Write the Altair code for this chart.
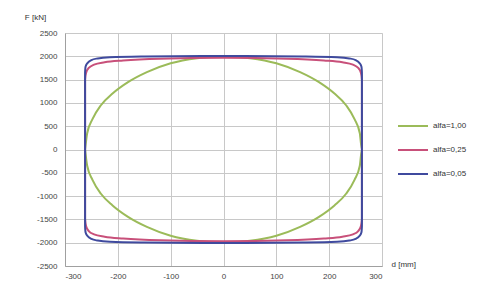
import altair as alt
import pandas as pd

series_names = ["alfa=1,00", "alfa=0,25", "alfa=0,05"]
series_colors = ["#9bbb59", "#c8507a", "#3f4a9e"]

# alfa = 1,00 (ellipse-like loop)
d_green = [-262, -258, -248, -232, -210, -180, -145, -100, -50, 0, 50, 100, 145, 180, 210, 232, 248, 258, 262,
           258, 248, 232, 210, 180, 145, 100, 50, 0, -50, -100, -145, -180, -210, -232, -248, -258, -262]
F_green = [0, 350, 650, 950, 1200, 1450, 1660, 1850, 1960, 2000, 1960, 1850, 1660, 1450, 1200, 950, 650, 350, 0,
           -350, -650, -950, -1200, -1450, -1660, -1850, -1960, -2000, -1960, -1850, -1660, -1450, -1200, -950, -650, -350, 0]

# alfa = 0,25
d_pink = [-262, -262, -260, -255, -245, -225, -190, -120, 0, 120, 190, 225, 245, 255, 260, 262,
          262, 260, 255, 245, 225, 190, 120, 0, -120, -190, -225, -245, -255, -260, -262, -262]
F_pink = [0, 1500, 1650, 1750, 1820, 1870, 1910, 1950, 1970, 1950, 1910, 1870, 1820, 1750, 1650, 1500,
          -1500, -1650, -1750, -1820, -1870, -1910, -1950, -1970, -1950, -1910, -1870, -1820, -1750, -1650, -1500, 0]

# alfa = 0,05
d_blue = [-262, -262, -261, -257, -250, -238, -215, -150, 0, 150, 215, 238, 250, 257, 261, 262,
          262, 261, 257, 250, 238, 215, 150, 0, -150, -215, -238, -250, -257, -261, -262, -262]
F_blue = [0, 1650, 1780, 1860, 1920, 1955, 1980, 1995, 2005, 1995, 1980, 1955, 1920, 1860, 1780, 1650,
          -1650, -1780, -1860, -1920, -1955, -1980, -1995, -2005, -1995, -1980, -1955, -1920, -1860, -1780, -1650, 0]

x_ticks = [-300, -200, -100, 0, 100, 200, 300]
y_ticks = [-2500, -2000, -1500, -1000, -500, 0, 500, 1000, 1500, 2000, 2500]

rows = []
for name, ds, fs in zip(series_names, [d_green, d_pink, d_blue], [F_green, F_pink, F_blue]):
    for i, (d, f) in enumerate(zip(ds, fs)):
        rows.append({"series": name, "d": d, "F": f, "i": i})
df = pd.DataFrame(rows)

chart = alt.Chart(df).mark_line(strokeWidth=2, interpolate="monotone").encode(
    x=alt.X("d:Q", scale=alt.Scale(domain=[-300, 300], nice=False),
            axis=alt.Axis(values=x_ticks, labelExpr="datum.value + ''", title="d [mm]", titleAngle=0,
                          titleX=326, titleY=-2, titleAlign="left", titleBaseline="middle",
                          titleFontSize=8, titleFontWeight="normal", titleColor="#333",
                          labelFontSize=8, labelColor="#444", labelPadding=6,
                          grid=True, gridColor="#c8c8c8", tickSize=0, domainColor="#a0a0a0")),
    y=alt.Y("F:Q", scale=alt.Scale(domain=[-2500, 2500], nice=False),
            axis=alt.Axis(values=y_ticks, labelExpr="datum.value + ''", title="F [kN]", titleAngle=0,
                          titleX=-30, titleY=-16, titleAlign="center", titleBaseline="middle",
                          titleFontSize=8, titleFontWeight="normal", titleColor="#333",
                          labelFontSize=8, labelColor="#444", labelPadding=8,
                          grid=True, gridColor="#c8c8c8", tickSize=0, domainColor="#a0a0a0")),
    color=alt.Color("series:N", sort=series_names,
                    scale=alt.Scale(domain=series_names, range=series_colors),
                    legend=alt.Legend(title=None, orient="none", legendX=332, legendY=77,
                                      symbolType="stroke", symbolSize=900, symbolStrokeWidth=2,
                                      labelFontSize=8, labelColor="#333", rowPadding=4,
                                      labelOffset=4)),
    order="i:Q",
    detail="series:N",
).properties(
    width=317, height=233,
    autosize=alt.AutoSizeParams(type="none"),
    padding={"left": 57, "top": 25, "right": 90, "bottom": 18},
).configure_view(stroke="#a0a0a0").configure(font="Liberation Sans")

chart.save("out.html", embed_options={"renderer": "svg", "actions": False})
